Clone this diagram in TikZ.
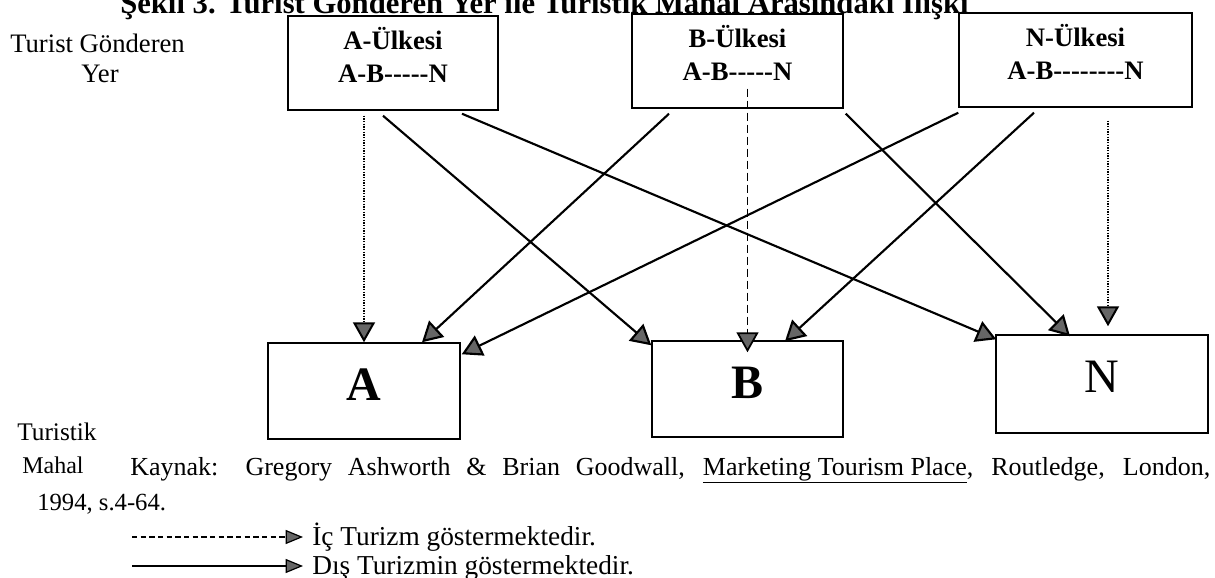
\documentclass[tikz,border=0pt]{standalone}
\usepackage{fontspec}
\setmainfont{Liberation Serif}
\usetikzlibrary{arrows.meta,calc}
% a hyphen that never joins its neighbours into a dash ligature
\newcommand\hy{-\kern0pt}

\begin{document}
\begin{tikzpicture}[x=0.75pt,y=-0.75pt,
  boxstyle/.style={draw,line width=1.1pt,inner sep=0pt},
  hdtext/.style={font=\fontsize{20}{24}\selectfont\bfseries,inner sep=0pt,anchor=base},
  sidelabel/.style={font=\fontsize{20}{24}\selectfont,inner sep=0pt,anchor=base west},
  srcnote/.style={font=\fontsize{18}{22}\selectfont,inner sep=0pt,anchor=base west},
  bigletter/.style={font=\fontsize{36}{40}\selectfont,inner sep=0pt,anchor=base},
  arr/.style={-{Triangle[length=15pt,width=16.5pt,fill=black!60]}},
  extarrow/.style={arr,line width=1.6pt},
  dotarrow/.style={arr,line width=1.5pt,dash pattern=on 1pt off 1pt},
  dasharrow/.style={arr,line width=1.3pt,dash pattern=on 6pt off 3pt},
  legarr/.style={-{Triangle[length=13pt,width=10.5pt,fill=black!60]},line width=0.9pt},
]
\fill[white] (0,0) rectangle (1215,578);
\path[use as bounding box] (0,0) rectangle (1215,578);

% heading
\node[font=\fontsize{23}{27}\selectfont\bfseries,anchor=base west,inner sep=0pt] (title) at (120,13)
  {Şekil 3. Turist Gönderen Yer ile Turistik Mahal Arasındaki İlişki};

% side labels
\node[sidelabel] (sendlbl) at (10,52) {Turist Gönderen};
\node[font=\fontsize{20}{24}\selectfont,inner sep=0pt,anchor=base] (yerlbl) at (100,82) {Yer};
\node[srcnote,font=\fontsize{19}{22}\selectfont] (turlbl) at (17,440) {Turistik};
\node[srcnote] (mahlbl) at (22,473) {Mahal};

% sending countries
\node[boxstyle,minimum width=157.5pt,minimum height=70.5pt] (topA) at (393,63) {};
\node[boxstyle,minimum width=158.25pt,minimum height=70.5pt] (topB) at (737.5,61) {};
\node[boxstyle,minimum width=174.75pt,minimum height=70.5pt] (topN) at (1075.5,60) {};

\node[hdtext] (topAa) at ($(topA.north)+(0,34)$) {A-Ülkesi};
\node[hdtext] (topAb) at ($(topA.north)+(0,67)$) {A-B\hy\hy\hy\hy\hy N};
\node[hdtext] (topBa) at ($(topB.north)+(0,34)$) {B-Ülkesi};
\node[hdtext] (topBb) at ($(topB.north)+(0,67)$) {A-B\hy\hy\hy\hy\hy N};
\node[hdtext] (topNa) at ($(topN.north)+(0,34)$) {N-Ülkesi};
\node[hdtext] (topNb) at ($(topN.north)+(0,67)$) {A-B\hy\hy\hy\hy\hy\hy\hy\hy N};

% destinations
\node[boxstyle,minimum width=144pt,minimum height=72pt] (botA) at (364,391) {};
\node[boxstyle,minimum width=143.25pt,minimum height=72pt] (botB) at (747.5,389) {};
\node[boxstyle,minimum width=159pt,minimum height=73.5pt] (botN) at (1102,384) {};

\node[bigletter,font=\fontsize{36}{40}\selectfont\bfseries] (lA) at ($(botA.center)+(0,9)$) {A};
\node[bigletter,font=\fontsize{36}{40}\selectfont\bfseries] (lB) at ($(botB.center)+(0,9)$) {B};
\node[bigletter] (lN) at ($(botN.center)+(0,8)$) {N};

% domestic flows
\draw[dotarrow] ($(topA.south)+(-29,5)$) -- (botA.north);
\draw[dasharrow] ($(topB.south)+(10,-20)$) -- ($(botB.north)+(0,12)$);
\draw[dotarrow] ($(topN.south)+(32.5,13)$) -- ($(botN.north)+(6,-8)$);

% international flows
\draw[extarrow] ($(topA.south)+(-10,5)$) -- ($(botB.north west)+(0,5)$);
\draw[extarrow] ($(topA.south)+(69,3)$) -- ($(botN.north west)+(1,5)$);
\draw[extarrow] ($(topB.south)+(-68.5,5)$) -- ($(botA.north)+(58,0)$);
\draw[extarrow] ($(topB.south east)+(2,5)$) -- ($(botN.north)+(-32,2)$);
\draw[extarrow] ($(topN.south west)+(0,5)$) -- ($(botA.north east)+(1,12)$);
\draw[extarrow] ($(topN.south)+(-41.5,5)$) -- ($(botB.north)+(37.5,1)$);

% source
\node[srcnote,font=\fontsize{19.5}{22}\selectfont] (src) at (130,475) {\makebox[810pt][s]{Kaynak: Gregory Ashworth \& Brian Goodwall, \underline{Marketing Tourism Place}, Routledge, London,}};
\node[srcnote,font=\fontsize{18.5}{22}\selectfont] (srcyr) at (37,510) {1994, s.4-64.};

% key
\coordinate (k1s) at (132,537);
\coordinate (k1e) at (303,537);
\coordinate (k2s) at (132,566);
\coordinate (k2e) at (303,566);
\draw[legarr,dash pattern=on 4pt off 2.5pt] (k1s) -- (k1e);
\draw[legarr] (k2s) -- (k2e);
\node[srcnote,font=\fontsize{20.5}{24}\selectfont] (k1t) at ($(k1e)+(9,8)$) {İç Turizm göstermektedir.};
\node[srcnote,font=\fontsize{20.5}{24}\selectfont] (k2t) at ($(k2e)+(9,8)$) {Dış Turizmin göstermektedir.};
\end{tikzpicture}
\end{document}
